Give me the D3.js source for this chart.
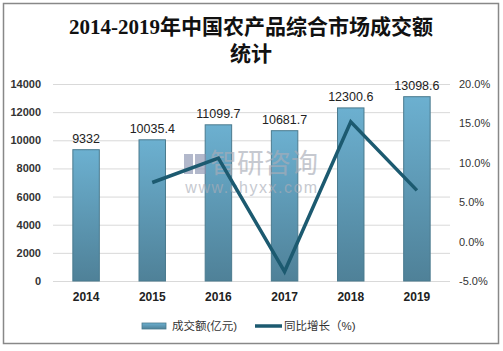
<!DOCTYPE html>
<html>
<head>
<meta charset="utf-8">
<script src="https://cdn.jsdelivr.net/npm/d3@7"></script>
<style>
  body { margin: 0; background: #fff; }
  svg text { font-family: "Liberation Sans", "Noto Sans CJK SC", sans-serif; }
</style>
</head>
<body>
<svg class="chart"></svg>
<script>
const years = ["2014", "2015", "2016", "2017", "2018", "2019"];
const amounts = [9332, 10035.4, 11099.7, 10681.7, 12300.6, 13098.6];
const growth = [null, 7.5, 10.6, -3.8, 15.2, 6.5];
const leftTicks = [0, 2000, 4000, 6000, 8000, 10000, 12000, 14000];
const rightTicks = [-5, 0, 5, 10, 15, 20];

const W = 503, H = 351;
const margin = { top: 84, right: 53, bottom: 70, left: 53 },
      width = W - margin.left - margin.right,
      height = H - margin.top - margin.bottom;

const svg = d3.select(".chart").attr("width", W).attr("height", H);

// outer frame
svg.append("rect")
    .attr("x", 3.5).attr("y", 3.5)
    .attr("width", 495).attr("height", 340)
    .attr("fill", "#fff").attr("stroke", "#888").attr("stroke-width", 1.5);

const defs = svg.append("defs");
const grad = defs.append("linearGradient").attr("id", "barGrad")
    .attr("x1", 0).attr("y1", 0).attr("x2", 0).attr("y2", 1);
grad.append("stop").attr("offset", "0%").attr("stop-color", "#6cb0d0");
grad.append("stop").attr("offset", "100%").attr("stop-color", "#4f8198");

// title
const title = svg.append("text")
    .attr("text-anchor", "middle")
    .style("font-family", "'Liberation Serif', 'Noto Sans CJK SC', serif")
    .style("font-weight", "bold")
    .style("font-size", "21px")
    .attr("fill", "#111");
title.append("tspan").attr("x", 251).attr("y", 34).text("2014-2019年中国农产品综合市场成交额");
title.append("tspan").attr("x", 251).attr("y", 61).text("统计");

const g = svg.append("g").attr("transform", `translate(${margin.left}, ${margin.top})`);

const x = d3.scaleBand().domain(years).range([0, width]).paddingInner(0.6).paddingOuter(0.3);
const y = d3.scaleLinear().domain([0, 14000]).range([height, 0]);
const y2 = d3.scaleLinear().domain([-5, 20]).range([height, 0]);

// gridlines
g.append("g")
    .call(d3.axisLeft(y).tickValues(leftTicks).tickSize(-width).tickFormat(""))
    .call(a => a.select(".domain").remove())
    .call(a => a.selectAll("line").attr("stroke", "#d9d9d9"));

// left axis labels
g.append("g")
    .call(d3.axisLeft(y).tickValues(leftTicks).tickSize(0).tickPadding(12).tickFormat(d3.format("d")))
    .call(a => a.select(".domain").remove())
    .call(a => a.selectAll("text").style("font-size", "11px").style("font-weight", "bold").attr("fill", "#333"));

// right axis labels
g.append("g")
    .attr("transform", `translate(${width}, 0)`)
    .call(d3.axisRight(y2).tickValues(rightTicks).tickSize(0).tickPadding(9)
        .tickFormat(d => d.toFixed(1) + "%"))
    .call(a => a.select(".domain").remove())
    .call(a => a.selectAll("text").style("font-size", "11px").attr("fill", "#333"));

// x axis labels
g.append("g")
    .attr("transform", `translate(0, ${height})`)
    .call(d3.axisBottom(x).tickSize(0).tickPadding(11))
    .call(a => a.select(".domain").remove())
    .call(a => a.selectAll("text").style("font-size", "12px").style("font-weight", "bold").attr("fill", "#222"));

// bars
g.selectAll(".bar")
    .data(years)
    .enter().append("rect")
    .attr("class", "bar")
    .attr("x", d => x(d))
    .attr("y", (d, i) => y(amounts[i]))
    .attr("width", x.bandwidth())
    .attr("height", (d, i) => height - y(amounts[i]))
    .attr("fill", "url(#barGrad)")
    .attr("stroke", "#4a7a8e")
    .attr("stroke-width", 1);

// bar labels
g.selectAll(".blabel")
    .data(years)
    .enter().append("text")
    .attr("class", "blabel")
    .attr("x", d => x(d) + x.bandwidth() / 2)
    .attr("y", (d, i) => y(amounts[i]) - 7)
    .attr("text-anchor", "middle")
    .style("font-size", "12.5px")
    .attr("fill", "#222")
    .text((d, i) => amounts[i]);

// watermark (under the line)
const wm = svg.append("g").attr("fill", "#a9adb8").attr("opacity", 0.65);
wm.append("rect").attr("x", 184).attr("y", 154).attr("width", 9).attr("height", 20).attr("fill", "#8a93b0");
wm.append("rect").attr("x", 195).attr("y", 154).attr("width", 11).attr("height", 20).attr("fill", "#8a93b0");
wm.append("text").attr("x", 264).attr("y", 173).attr("text-anchor", "middle")
    .style("font-size", "27px").text("智研咨询");
wm.append("text").attr("x", 252).attr("y", 193).attr("text-anchor", "middle")
    .style("font-size", "16px").style("letter-spacing", "1.5px").text("www.chyxx.com");

// growth line
const pts = years.map((d, i) => ({ year: d, v: growth[i] })).filter(d => d.v !== null);
svg.append("g")
    .attr("transform", `translate(${margin.left}, ${margin.top})`)
    .append("path")
    .datum(pts)
    .attr("fill", "none")
    .attr("stroke", "#1c5a70")
    .attr("stroke-width", 3.5)
    .attr("d", d3.line().x(d => x(d.year) + x.bandwidth() / 2).y(d => y2(d.v)));

// legend
const lg = svg.append("g").attr("transform", "translate(142, 326)");
lg.append("rect").attr("x", 0).attr("y", -3).attr("width", 24).attr("height", 6)
    .attr("fill", "url(#barGrad)").attr("stroke", "#4a7a8e").attr("stroke-width", 0.8);
lg.append("text").attr("x", 30).attr("y", 4).style("font-size", "11.5px").attr("fill", "#333").text("成交额(亿元)");
lg.append("line").attr("x1", 113).attr("x2", 140).attr("y1", 0).attr("y2", 0)
    .attr("stroke", "#1c5a70").attr("stroke-width", 3.5);
lg.append("text").attr("x", 142).attr("y", 4).style("font-size", "11.5px").attr("fill", "#333").text("同比增长（%)");
</script>
</body>
</html>
